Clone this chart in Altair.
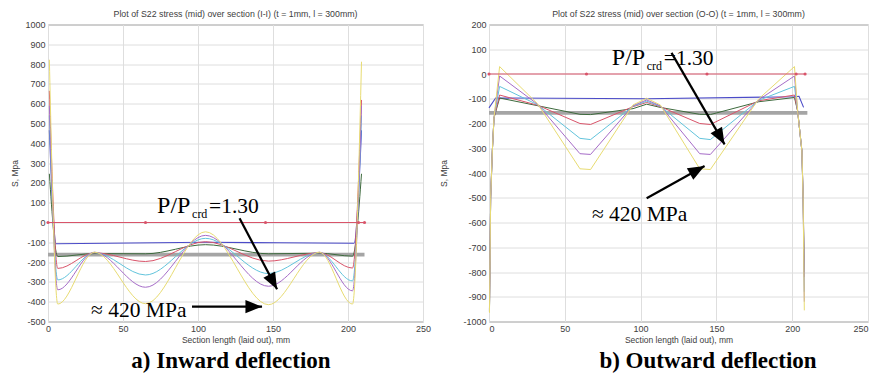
import altair as alt
import pandas as pd

SERIF = "Liberation Serif"
SANS = "Liberation Sans"
TXT = "#404040"

BLUE, GREEN, RED, CYAN, MAGENTA, YELLOW, GRAY = (
    "#4b4bc8", "#3d6a3d", "#d9546a", "#62c4dc", "#a66cc8", "#e8dc72", "#a5a5a5")

XTICKS = [0, 50, 100, 150, 200, 250]

# ---------------- a) inward deflection ----------------
IN_TITLE = "Plot of S22 stress (mid) over section (I-I) (t = 1mm, l = 300mm)"
IN_X = [0.9, 6.5, 31, 65, 105, 147, 181, 203, 209]
IN_GREEN = [246, -172, -157, -158, -112, -158, -155, -170, 246]
IN_RED = [665, -232, -153, -197, -97, -195, -153, -230, 619]
IN_CYAN = [540, -290, -152, -265, -80, -258, -152, -295, 540]
IN_MAGENTA = [590, -340, -150, -327, -65, -322, -150, -345, 590]
IN_YELLOW = [822, -412, -150, -410, -47, -415, -150, -412, 812]
IN_BLUE_X = [0.9, 5.5, 105, 204, 209]
IN_BLUE = [466, -107, -100, -105, 466]
IN_ZERO_X = [0, 65, 145, 207, 211]
IN_GRAY_X = [0, 211]
IN_GRAY = [-162, -162]
IN_YTICKS = list(range(-500, 1001, 100))

# ---------------- b) outward deflection ----------------
OUT_TITLE = "Plot of S22 stress (mid) over section (O-O) (t = 1mm, l = 300mm)"
OUT_X = [0.3, 1.1, 2.2, 3.3, 7, 32, 60, 67, 95, 104, 113, 139, 146, 178,
         201.5, 203.6, 206.4, 207.2, 208]
OUT_GREEN = [-960, -500, -311, -177, -97, -128, -163, -164, -140, -122, -135,
             -163, -164, -112, -95, -150, -311, -500, -800]
OUT_RED = [-950, -500, -311, -177, -85, -126, -200, -204, -132, -115, -132,
           -200, -204, -108, -85, -150, -311, -500, -820]
OUT_CYAN = [-955, -500, -311, -177, -50, -124, -260, -265, -130, -110, -130,
            -260, -265, -106, -50, -150, -311, -500, -880]
OUT_MAGENTA = [-960, -500, -311, -177, -8, -122, -322, -325, -128, -105, -128,
               -322, -325, -104, -8, -150, -311, -500, -920]
OUT_YELLOW = [-965, -500, -311, -177, 30, -120, -383, -386, -125, -98, -125,
              -383, -386, -100, 30, -150, -311, -500, -955]
OUT_BLUE_X = [0, 4.4, 104, 201, 204.5, 207.5]
OUT_BLUE = [-137, -97, -100, -92, -90, -135]
OUT_ZERO_X = [0, 64.3, 143.8, 202.6, 208.5]
OUT_GRAY_X = [0, 210]
OUT_GRAY = [-157, -157]
OUT_YTICKS = list(range(-1000, 201, 100))

# annotation anchors (data units: mm, MPa)
IN_NOTE = (72.7, 47.5)
IN_ARROWS = [((127.7, 22), (152.7, -337), 152), ((96, -425), (142.7, -425), 90)]
IN_MPA = (28.7, -475)
OUT_NOTE = (81, 38)
OUT_ARROWS = [((120.4, 85.5), (155.4, -284.5), 150), ((104, -502), (142.2, -371.7), 61)]
OUT_MPA = (67.9, -593.6)

# arrow head with its tip at the symbol origin, pointing up before rotation
HEAD = "M0,0L0.4,1L-0.4,1Z"


def panel(title, lines, blue, zero_x, gray, ydom, yticks, ytitle_pad,
          note, arrows, mpa, caption, cap_x, width, height, interp, flush):
    xax = alt.Axis(values=XTICKS, title="Section length (laid out), mm", grid=True,
                   ticks=False, domain=False, labelFont=SANS, labelFontSize=9,
                   labelColor=TXT, titleFont=SANS, titleFontSize=8.5,
                   titleFontWeight="normal", titleColor=TXT, labelPadding=3,
                   titlePadding=2, gridColor="#dedede", labelFlush=flush,
                   labelExpr="'' + datum.value")
    yax = alt.Axis(values=yticks, title="S, Mpa", grid=True, ticks=False, domain=False,
                   labelFont=SANS, labelFontSize=9, labelColor=TXT, titleFont=SANS,
                   titleFontSize=8.5, titleFontWeight="normal", titleColor=TXT,
                   labelPadding=3, titlePadding=ytitle_pad, gridColor="#dedede",
                   labelExpr="'' + datum.value")
    xe = alt.X("x:Q", scale=alt.Scale(domain=[0, 250], nice=False, zero=False), axis=xax)
    ye = alt.Y("y:Q", scale=alt.Scale(domain=ydom, nice=False, zero=False), axis=yax)

    def line(xs, ys, color, sw, mode):
        df = pd.DataFrame({"x": xs, "y": ys})
        return alt.Chart(df).mark_line(color=color, strokeWidth=sw,
                                       interpolate=mode).encode(x=xe, y=ye)

    layers = [line(gray[0], gray[1], GRAY, 3.6, "linear"),
              line(blue[0], blue[1], BLUE, 1.1, interp)]
    xs, series = lines
    for ys, color in zip(series, [GREEN, RED, CYAN, MAGENTA, YELLOW]):
        layers.append(line(xs, ys, color, 1.0, interp))

    zero = pd.DataFrame({"x": zero_x, "y": [0] * len(zero_x)})
    layers.append(alt.Chart(zero).mark_line(color=RED, strokeWidth=1).encode(x=xe, y=ye))
    layers.append(alt.Chart(zero).mark_point(shape="circle", filled=True, color=RED,
                                             size=10, opacity=1).encode(x=xe, y=ye))

    def text(pos, t, size, dx=0, dy=0):
        df = pd.DataFrame({"x": [pos[0]], "y": [pos[1]], "t": [t]})
        return alt.Chart(df).mark_text(align="left", baseline="alphabetic", font=SERIF,
                                       fontSize=size, dx=dx, dy=dy,
                                       color="black").encode(x=xe, y=ye, text="t:N")

    layers += [text(note, "P/P", 24), text(note, "crd", 12, dx=35, dy=5),
               text(note, "=1.30", 21.5, dx=52), text(mpa, "\u2248 420 MPa", 21.5)]

    for (tx, ty), (hx, hy), ang in arrows:
        df = pd.DataFrame({"x": [tx], "y": [ty], "x2": [hx], "y2": [hy]})
        layers.append(alt.Chart(df).mark_rule(color="black", strokeWidth=2.2)
                      .encode(x=xe, y=ye, x2="x2:Q", y2="y2:Q"))
        tip = pd.DataFrame({"x": [hx], "y": [hy]})
        layers.append(alt.Chart(tip).mark_point(shape=HEAD, filled=True, color="black",
                                                opacity=1, size=1100, angle=ang)
                      .encode(x=xe, y=ye))

    cap = pd.DataFrame({"t": [caption]})
    layers.append(alt.Chart(cap).mark_text(font=SERIF, fontSize=23, fontWeight="bold",
                                           align="center", baseline="alphabetic",
                                           color="black")
                  .encode(x=alt.value(cap_x), y=alt.value(height + 46), text="t:N"))

    return alt.layer(*layers).properties(
        width=width, height=height,
        title=alt.Title(title, font=SANS, fontSize=8.8, fontWeight="normal",
                        color=TXT, offset=2))


left = panel(IN_TITLE, (IN_X, [IN_GREEN, IN_RED, IN_CYAN, IN_MAGENTA, IN_YELLOW]),
             (IN_BLUE_X, IN_BLUE), IN_ZERO_X, (IN_GRAY_X, IN_GRAY), [-500, 1000],
             IN_YTICKS, 5, IN_NOTE, IN_ARROWS, IN_MPA, "a) Inward deflection",
             183, 375, 297, "monotone", False)
right = panel(OUT_TITLE, (OUT_X, [OUT_GREEN, OUT_RED, OUT_CYAN, OUT_MAGENTA, OUT_YELLOW]),
              (OUT_BLUE_X, OUT_BLUE), OUT_ZERO_X, (OUT_GRAY_X, OUT_GRAY), [-1000, 200],
              OUT_YTICKS, 14, OUT_NOTE, OUT_ARROWS, OUT_MPA, "b) Outward deflection",
              219, 379, 297, "linear", True)

chart = alt.hconcat(left, right, spacing=7).properties(
    padding={"left": 10, "top": 8.5, "right": 0, "bottom": 0}
).configure_view(stroke="#808080", strokeWidth=1)

chart.save("out.html", embed_options={"renderer": "svg", "actions": False})
